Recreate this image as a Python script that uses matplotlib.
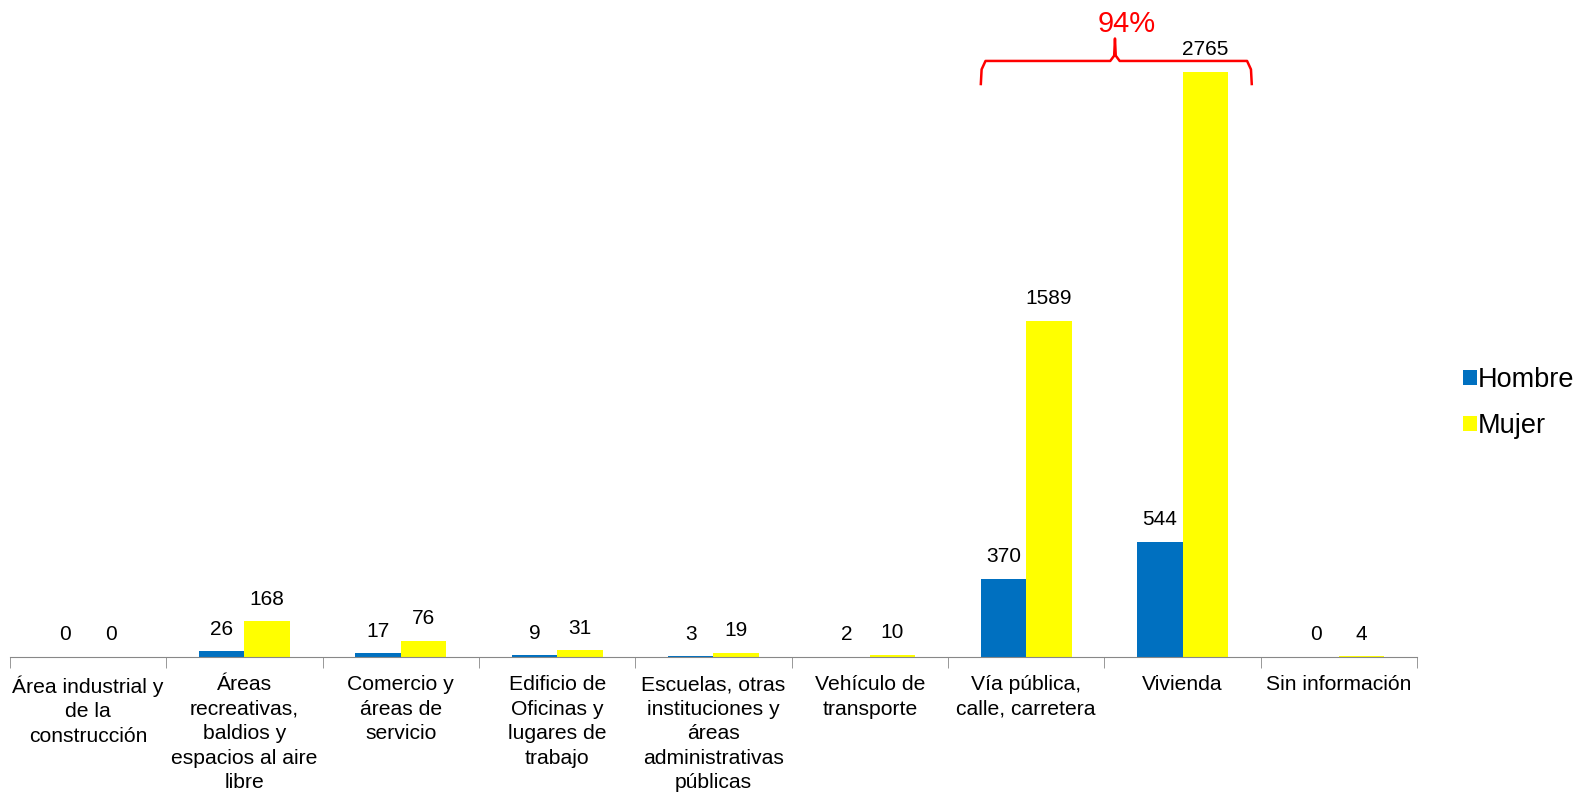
import numpy as np
from matplotlib import pyplot as plt

plt.rcParams['font.family'] = ['Liberation Sans', 'DejaVu Sans']

categorias = [
    "Área industrial y\nde la\nconstrucción",
    "Áreas\nrecreativas,\nbaldios y\nespacios al aire\nlibre",
    "Comercio y\náreas de\nservicio",
    "Edificio de\nOficinas y\nlugares de\ntrabajo",
    "Escuelas, otras\ninstituciones y\náreas\nadministrativas\npúblicas",
    "Vehículo de\ntransporte",
    "Vía pública,\ncalle, carretera",
    "Vivienda",
    "Sin información",
]
hombre = [0, 26, 17, 9, 3, 2, 370, 544, 0]
mujer = [0, 168, 76, 31, 19, 10, 1589, 2765, 4]
porcentaje = "94%"

fig = plt.figure(figsize=(15.8, 7.92), dpi=100)
ax = fig.add_axes([10 / 1580, 135 / 792, 1407 / 1580, 635 / 792])

x = np.arange(len(categorias))
w = 0.29
b1 = ax.bar(x - w / 2, hombre, w, color='#0070C0', label='Hombre')
b2 = ax.bar(x + w / 2, mujer, w, color='#FFFF00', label='Mujer')

for bars, vals in ((b1, hombre), (b2, mujer)):
    for r, v in zip(bars, vals):
        ax.annotate(str(v), (r.get_x() + r.get_width() / 2, v),
                    xytext=(0, 9), textcoords='offset points',
                    ha='center', va='bottom', fontsize=15)

ax.set_xlim(-0.5, len(categorias) - 0.5)
ax.set_ylim(0, 3000)
for s in ('top', 'right', 'left'):
    ax.spines[s].set_visible(False)
ax.spines['bottom'].set_color('#888888')
ax.set_yticks([])
ax.set_xticks(x)
ax.set_xticklabels(categorias, fontsize=15.2, linespacing=1.37)
ax.tick_params(axis='x', length=0, pad=13)
ax.set_xticks(np.arange(len(categorias) + 1) - 0.5, minor=True)
ax.tick_params(axis='x', which='minor', length=8, color='#888888', direction='out')

# llave roja sobre Vía pública y Vivienda
xl, xr, xm = 6 - w, 7.443, 6.568
yb, yh, yt = 2707, 2816, 2922
red = '#FF0000'
ax.plot([xl, xl + 0.005, xl + 0.03, xm - 0.03, xm - 0.005, xm,
         xm + 0.005, xm + 0.03, xr - 0.03, xr - 0.005, xr],
        [yb, yh - 40, yh, yh, yh + 25, yt, yh + 25, yh, yh, yh - 40, yb],
        color=red, lw=1.8, clip_on=False)
ax.text(6.645, 2955, porcentaje, color=red, fontsize=21,
        ha='center', va='baseline')

fig.legend(handles=[b1, b2], loc='center left',
           bbox_to_anchor=(1463 / 1580, 0.491), frameon=False,
           borderaxespad=0, borderpad=0,
           fontsize=19.5, handlelength=0.5, handleheight=0.5,
           handletextpad=0.06, labelspacing=0.75)

fig.savefig('out.png', dpi=100)
